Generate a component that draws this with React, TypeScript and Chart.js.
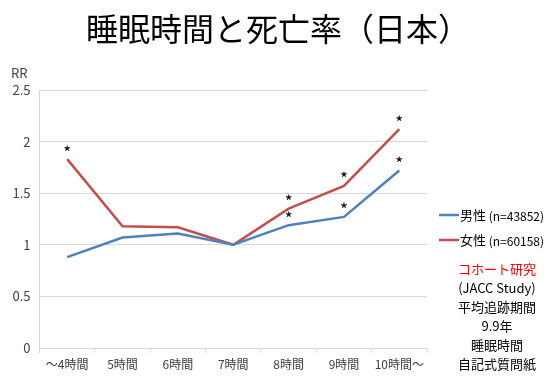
import React, { useEffect, useRef } from "react";
import { Chart, registerables } from "chart.js";

Chart.register(...registerables);

const categories = ["～4時間", "5時間", "6時間", "7時間", "8時間", "9時間", "10時間～"];
const maleValues = [0.88, 1.07, 1.11, 1.0, 1.19, 1.27, 1.72];
const femaleValues = [1.83, 1.18, 1.17, 1.0, 1.35, 1.57, 2.12];
const maleSignificant = [false, false, false, false, true, true, true];
const femaleSignificant = [true, false, false, false, true, true, true];
const maleLabel = "男性";
const maleN = "(n=43852)";
const femaleLabel = "女性";
const femaleN = "(n=60158)";
const yTicks = [0, 0.5, 1, 1.5, 2, 2.5];
const titleText = "睡眠時間と死亡率（日本）";
const noteLines = ["コホート研究", "(JACC Study)", "平均追跡期間", "9.9年", "睡眠時間", "自記式質問紙"];

const FONT = "'Noto Sans CJK JP', 'Noto Sans', sans-serif";
const BLUE = "#4f81bd";
const RED = "#c0504d";

const overlayPlugin = {
  id: "overlay",
  afterDraw(chart: any) {
    const ctx = chart.ctx;
    ctx.save();
    // title
    ctx.fillStyle = "#000";
    ctx.font = `32px ${FONT}`;
    ctx.textAlign = "center";
    ctx.textBaseline = "middle";
    ctx.fillText(titleText, 278, 29);
    // RR label
    ctx.font = `13px ${FONT}`;
    ctx.fillStyle = "#404040";
    ctx.textAlign = "left";
    ctx.fillText("RR", 11, 73);
    // asterisks
    ctx.fillStyle = "#000";
    ctx.font = `17px ${FONT}`;
    ctx.textAlign = "center";
    const flags = [maleSignificant, femaleSignificant];
    flags.forEach((f, di) => {
      const meta = chart.getDatasetMeta(di);
      meta.data.forEach((pt: any, i: number) => {
        if (f[i]) ctx.fillText("*", pt.x, pt.y - 7);
      });
    });
    // legend
    const legend = [
      { c: BLUE, l: maleLabel, n: maleN, y: 215 },
      { c: RED, l: femaleLabel, n: femaleN, y: 240 },
    ];
    legend.forEach((e) => {
      ctx.strokeStyle = e.c;
      ctx.lineWidth = 2.5;
      ctx.beginPath();
      ctx.moveTo(439, e.y);
      ctx.lineTo(459, e.y);
      ctx.stroke();
      ctx.fillStyle = "#000";
      ctx.textAlign = "left";
      ctx.font = `13px ${FONT}`;
      ctx.fillText(e.l, 460, e.y);
      const w = ctx.measureText(e.l).width;
      ctx.font = `12px ${FONT}`;
      ctx.fillText(" " + e.n, 460 + w, e.y + 1);
    });
    // notes
    ctx.textAlign = "center";
    ctx.font = `13px ${FONT}`;
    noteLines.forEach((t, i) => {
      ctx.fillStyle = i === 0 ? "#ff0000" : "#000";
      ctx.fillText(t, 497, 269 + i * 19);
    });
    ctx.restore();
  },
};

export default function App() {
  const ref = useRef<HTMLCanvasElement>(null);
  useEffect(() => {
    if (!ref.current) return;
    const chart = new Chart(ref.current, {
      type: "line",
      data: {
        labels: categories,
        datasets: [
          { label: maleLabel, data: maleValues, borderColor: BLUE, borderWidth: 2.5, pointRadius: 0, tension: 0 },
          { label: femaleLabel, data: femaleValues, borderColor: RED, borderWidth: 2.5, pointRadius: 0, tension: 0 },
        ],
      },
      options: {
        responsive: false,
        animation: false,
        layout: { padding: { top: 90, right: 129, left: 0, bottom: 0 } },
        plugins: { legend: { display: false }, title: { display: false }, tooltip: { enabled: false } },
        scales: {
          x: {
            offset: true,
            grid: { display: true, offset: true, drawOnChartArea: false, drawTicks: true, tickLength: 5, color: "#d9d9d9" },
            border: { display: true, color: "#d9d9d9" },
            ticks: { color: "#404040", font: { size: 12, family: FONT }, padding: 4, maxRotation: 0, autoSkip: false },
            afterFit: (s: any) => { s.height = 29; },
          },
          y: {
            min: 0,
            max: 2.5,
            afterBuildTicks: (s: any) => { s.ticks = yTicks.map((v) => ({ value: v })); },
            grid: { color: "#d9d9d9", drawTicks: false },
            border: { display: true, color: "#d9d9d9" },
            ticks: { color: "#404040", font: { size: 13, family: FONT }, padding: 9, callback: (v: any) => String(v) },
            afterFit: (s: any) => { s.width = 39.5; },
          },
        },
      },
      plugins: [overlayPlugin],
    });
    return () => chart.destroy();
  }, []);
  return (
    <div style={{ position: "fixed", left: 0, top: 0, width: 556, height: 377, background: "#fff" }}>
      <canvas ref={ref} width={556} height={377} style={{ display: "block" }} />
    </div>
  );
}
